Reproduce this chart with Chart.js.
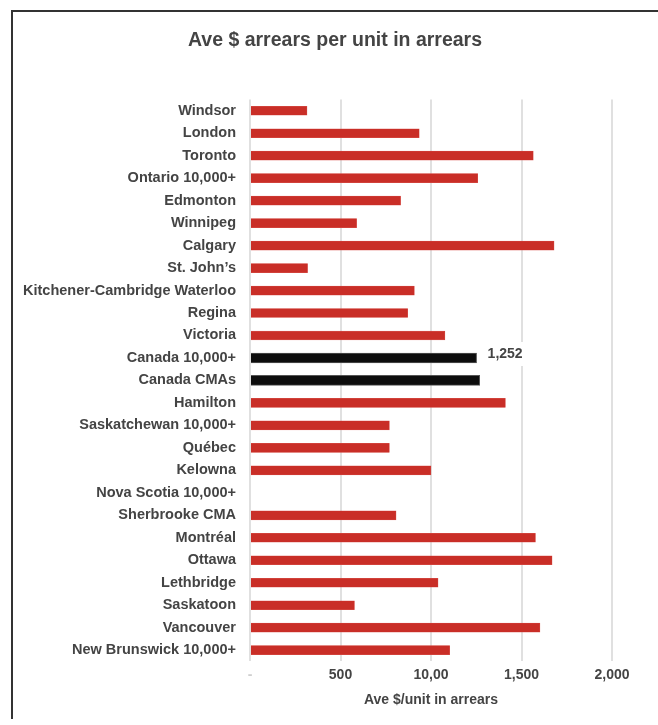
<!DOCTYPE html>
<html>
<head>
<meta charset="utf-8">
<script src="https://cdn.jsdelivr.net/npm/chart.js@4.4.1/dist/chart.umd.min.js"></script>
<style>
  body { margin: 0; background: #fff; }
  #wrap { position: relative; width: 658px; height: 725px; }
  #frame { position: absolute; left: 11px; top: 10px; right: 0; bottom: 6px;
           border-top: 2px solid #333; border-left: 2px solid #333; pointer-events: none; }
  canvas { position: absolute; left: 0; top: 0; }
</style>
</head>
<body>
<div id="wrap">
  <canvas id="ArrearsCanvas" width="658" height="725"></canvas>
  <div id="frame"></div>
</div>
<script>
// categories, top to bottom
const places = [
  "Windsor", "London", "Toronto", "Ontario 10,000+", "Edmonton", "Winnipeg",
  "Calgary", "St. John\u2019s", "Kitchener-Cambridge Waterloo", "Regina", "Victoria",
  "Canada 10,000+", "Canada CMAs", "Hamilton", "Saskatchewan 10,000+", "Qu\u00e9bec",
  "Kelowna", "Nova Scotia 10,000+", "Sherbrooke CMA", "Montr\u00e9al", "Ottawa",
  "Lethbridge", "Saskatoon", "Vancouver", "New Brunswick 10,000+"
];

// average $ arrears per unit in arrears (null = no bar shown)
const arrearsValues = [
  315, 935, 1565, 1258, 832, 589,
  1680, 318, 908, 871, 1077,
  1252, 1269, 1411, 770, 770,
  1000, null, 807, 1577, 1669,
  1039, 577, 1602, 1103
];

// national benchmarks drawn in black
const benchmarks = ["Canada 10,000+", "Canada CMAs"];
const labelledPlace = "Canada 10,000+";

// x axis ticks as printed on the original
const tickValues = [0, 500, 1000, 1500, 2000];
const tickLabels = ["-", "500", "10,00", "1,500", "2,000"];

const chartTitle = 'Ave $ arrears per unit in arrears';

const redValues = arrearsValues.map((v, i) => benchmarks.includes(places[i]) ? null : v);
const blackValues = arrearsValues.map((v, i) => benchmarks.includes(places[i]) ? v : null);

const textGrey = '#444';
const fontFamily = "'Liberation Sans', Arial, sans-serif";
const boldFont = {family: fontFamily, weight: 'bold', size: 14};

// title centred over the framed box, not over the plot
const boxTitle = {
  id: 'boxTitle',
  afterDraw(chart) {
    const ctx = chart.ctx;
    ctx.save();
    ctx.font = "bold 19.5px " + fontFamily;
    ctx.fillStyle = textGrey;
    ctx.textAlign = 'center';
    ctx.textBaseline = 'middle';
    ctx.fillText(chartTitle, (12 + chart.width) / 2, 41);
    ctx.restore();
  }
};

// draws the "1,252" callout with a white box behind it
const valueLabel = {
  id: 'valueLabel',
  afterDatasetsDraw(chart) {
    const idx = places.indexOf(labelledPlace);
    const bar = chart.getDatasetMeta(1).data[idx];
    if (!bar) return;
    const ctx = chart.ctx;
    const txt = blackValues[idx].toLocaleString('en-US');
    ctx.save();
    ctx.font = "bold 14px " + fontFamily;
    const w = ctx.measureText(txt).width;
    const x = bar.x + 11;
    const y = bar.y - 4;
    ctx.fillStyle = '#fff';
    ctx.fillRect(x - 4, y - 12, w + 10, 24);
    ctx.fillStyle = textGrey;
    ctx.textBaseline = 'middle';
    ctx.fillText(txt, x, y);
    ctx.restore();
  }
};

new Chart(document.getElementById('ArrearsCanvas'), {
  type: 'bar',
  data: {
    labels: places,
    datasets: [
      {
        data: redValues,
        backgroundColor: '#c92e27',
        borderColor: '#d9554f',
        borderWidth: 0.5,
        barThickness: 9
      },
      {
        data: blackValues,
        backgroundColor: '#0d0d0d',
        borderColor: '#555',
        borderWidth: 1,
        barThickness: 10
      }
    ]
  },
  options: {
    indexAxis: 'y',
    responsive: false,
    animation: false,
    layout: {padding: {left: 12, right: 46, top: 99.5, bottom: 16}},
    plugins: {
      legend: {display: false},
      tooltip: {enabled: false},
      title: {display: false}
    },
    scales: {
      x: {
        stacked: true,
        min: 0,
        max: 2000,
        afterBuildTicks(scale) {
          scale.ticks = tickValues.map(v => ({value: v}));
        },
        grid: {color: '#e0e0e0', lineWidth: 2, drawTicks: false},
        border: {display: false},
        ticks: {
          padding: 5,
          color: ctx => ctx.index === 0 ? '#cfcfcf' : textGrey,
          font: boldFont,
          callback: (value, index) => tickLabels[index]
        },
        title: {
          display: true,
          text: 'Ave $/unit in arrears',
          color: textGrey,
          font: boldFont,
          padding: {top: 4, bottom: 0}
        }
      },
      y: {
        stacked: true,
        afterFit(scale) { scale.width = 238; },
        grid: {display: false, drawTicks: false},
        border: {display: false},
        ticks: {
          padding: 14,
          color: textGrey,
          font: {family: fontFamily, weight: 'bold', size: 14.5}
        }
      }
    }
  },
  plugins: [valueLabel, boxTitle]
});
</script>
</body>
</html>
